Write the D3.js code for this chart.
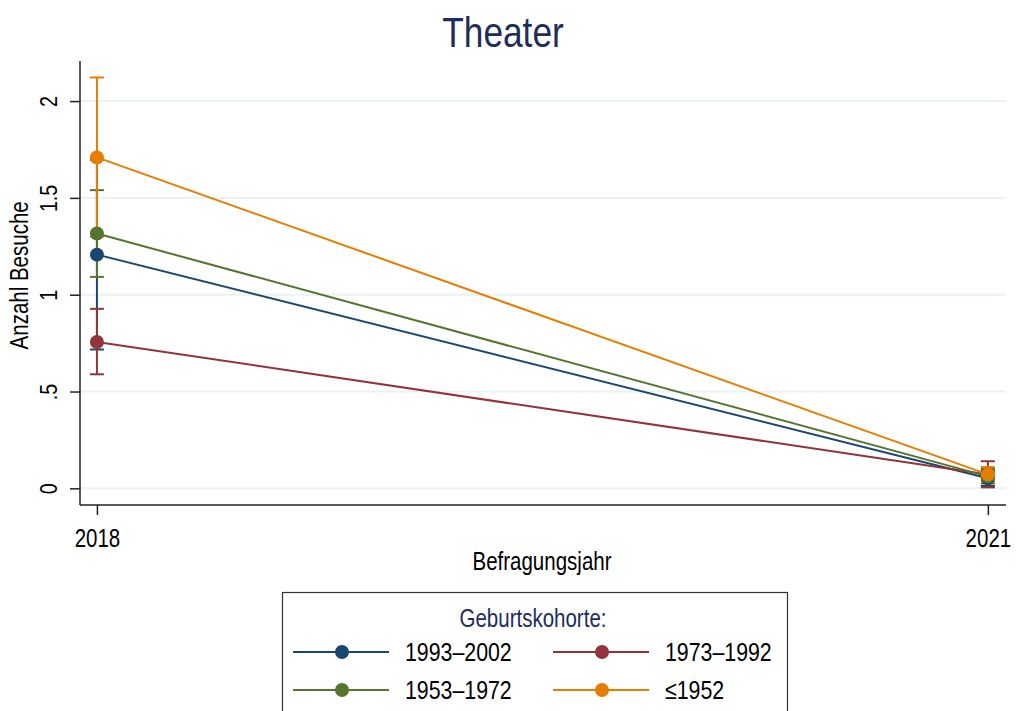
<!DOCTYPE html>
<html lang="de">
<head>
<meta charset="utf-8">
<title>Theater</title>
<script src="https://cdn.jsdelivr.net/npm/d3@7"></script>
<style>
  body { margin: 0; background: #fff; }
  text { font-family: "Liberation Sans", Arial, sans-serif; fill: #000; }
  .grid line { stroke: #eaf2f3; stroke-width: 2; }
  .axis line, .axisline { stroke: #222; stroke-width: 1.5; }
</style>
</head>
<body>
<script>
// data
const years = [2018, 2021];
const cohorts = ["1993\u20132002", "1973\u20131992", "1953\u20131972", "\u22641952"];
const colors = ["#1a476f", "#90353b", "#55752f", "#e37e00"];
const meanVisits = [[1.207, 0.052], [0.756, 0.072], [1.316, 0.062], [1.709, 0.072]];
const ciLower = [[0.717, 0.012], [0.589, 0.005], [1.092, 0.025], [1.300, 0.035]];
const ciUpper = [[1.697, 0.092], [0.927, 0.140], [1.540, 0.100], [2.122, 0.110]];
const yTicks = [0, 0.5, 1, 1.5, 2];
const yTickLabels = ["0", ".5", "1", "1.5", "2"];

const width = 1017, height = 711;
const svg = d3.select("body").append("svg")
    .attr("width", width)
    .attr("height", height);

// narrow look: squeeze text like Helvetica Narrow
function narrow(sel) {
  sel.each(function() {
    const w = this.getComputedTextLength();
    d3.select(this).attr("textLength", w * 0.82).attr("lengthAdjust", "spacingAndGlyphs");
  });
}

// scales (plot region 80..1006 x 61..505)
const x = d3.scaleLinear().domain([2017.943, 2021.061]).range([80, 1006]);
const y = d3.scaleLinear().domain([-0.086, 2.207]).range([505, 61]);

// gridlines
svg.append("g").attr("class", "grid")
   .selectAll("line").data(yTicks).enter().append("line")
   .attr("x1", x.range()[0]).attr("x2", x.range()[1])
   .attr("y1", d => y(d)).attr("y2", d => y(d));

// y axis with rotated labels
const yAxis = svg.append("g").attr("class", "axis")
   .attr("transform", "translate(80,0)")
   .call(d3.axisLeft(y).tickValues(yTicks).tickSizeOuter(0).tickSize(10)
         .tickFormat((d, i) => yTickLabels[i]));
yAxis.select(".domain").remove();
yAxis.selectAll("text")
   .attr("x", 0).attr("dy", 0)
   .attr("text-anchor", "middle")
   .attr("transform", "translate(-23,0) rotate(-90)")
   .style("font-size", "24px")
   .call(narrow);

// x axis
const xAxis = svg.append("g").attr("class", "axis")
   .attr("transform", "translate(0,505)")
   .call(d3.axisBottom(x).tickValues(years).tickSizeOuter(0).tickSize(10)
         .tickFormat(d3.format("d")));
xAxis.select(".domain").remove();
xAxis.selectAll("text")
   .attr("y", 0).attr("dy", 0)
   .attr("transform", "translate(0,42) scale(0.82,1)")
   .style("font-size", "25px");

// axis lines
svg.append("line").attr("class", "axisline")
   .attr("x1", x.range()[0]).attr("x2", x.range()[0])
   .attr("y1", y.range()[0]).attr("y2", y.range()[1]);
svg.append("line").attr("class", "axisline")
   .attr("x1", x.range()[0]).attr("x2", x.range()[1])
   .attr("y1", y.range()[0]).attr("y2", y.range()[0]);

// axis titles
svg.append("text")
   .attr("transform", "translate(28," + y(1.1) + ") rotate(-90)")
   .attr("text-anchor", "middle")
   .style("font-size", "25px")
   .text("Anzahl Besuche")
   .call(narrow);
svg.append("text")
   .attr("x", 542).attr("y", 570)
   .attr("text-anchor", "middle")
   .style("font-size", "25px")
   .text("Befragungsjahr")
   .call(narrow);

// title
svg.append("text")
   .attr("x", 503).attr("y", 47)
   .attr("text-anchor", "middle")
   .style("font-size", "43px")
   .style("fill", "#1e2d5a")
   .text("Theater")
   .call(narrow);

// confidence intervals
cohorts.forEach(function(c, k) {
  const g = svg.append("g").attr("stroke", colors[k]).attr("stroke-width", 2);
  years.forEach(function(yr, i) {
    g.append("line")
     .attr("x1", x(yr)).attr("x2", x(yr))
     .attr("y1", y(ciLower[k][i])).attr("y2", y(ciUpper[k][i]));
    [ciLower[k][i], ciUpper[k][i]].forEach(function(v) {
      g.append("line")
       .attr("x1", x(yr) - 7).attr("x2", x(yr) + 7)
       .attr("y1", y(v)).attr("y2", y(v));
    });
  });
});

// connecting lines
const line = d3.line().x((d, i) => x(years[i])).y(d => y(d));
cohorts.forEach(function(c, k) {
  svg.append("path")
     .attr("d", line(meanVisits[k]))
     .attr("fill", "none")
     .attr("stroke", colors[k])
     .attr("stroke-width", 2);
});

// markers
cohorts.forEach(function(c, k) {
  svg.append("g").selectAll("circle")
     .data(meanVisits[k]).enter().append("circle")
     .attr("cx", (d, i) => x(years[i]))
     .attr("cy", d => y(d))
     .attr("r", 7)
     .attr("fill", colors[k]);
});

// legend
const legend = svg.append("g");
legend.append("rect")
   .attr("x", 282.5).attr("y", 592.5)
   .attr("width", 505).attr("height", 140)
   .attr("fill", "#fff").attr("stroke", "#333").attr("stroke-width", 1.2);
legend.append("text")
   .attr("x", 533).attr("y", 627)
   .attr("text-anchor", "middle")
   .style("font-size", "25px")
   .style("fill", "#1e2d5a")
   .text("Geburtskohorte:")
   .call(narrow);

const colX = [293, 553];
const rowY = [652, 690];
cohorts.forEach(function(c, k) {
  const lx = colX[k % 2], ly = rowY[Math.floor(k / 2)];
  const item = legend.append("g");
  item.append("line")
      .attr("x1", lx).attr("x2", lx + 96)
      .attr("y1", ly).attr("y2", ly)
      .attr("stroke", colors[k]).attr("stroke-width", 2);
  item.append("circle")
      .attr("cx", lx + 49).attr("cy", ly).attr("r", 7)
      .attr("fill", colors[k]);
  item.append("text")
      .attr("x", lx + 112).attr("y", ly + 9)
      .style("font-size", "26px")
      .text(c)
      .call(narrow);
});
</script>
</body>
</html>
